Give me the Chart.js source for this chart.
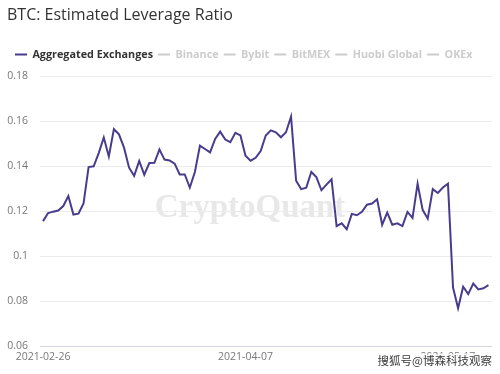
<!DOCTYPE html>
<html>
<head>
<meta charset="utf-8">
<script src="https://cdn.jsdelivr.net/npm/chart.js@4.4.1/dist/chart.umd.min.js"></script>
<style>
  html, body { margin: 0; padding: 0; background: #fff; }
  #wrap { width: 500px; height: 374px; position: relative; }
</style>
</head>
<body>
<div id="wrap"><canvas id="myChart"></canvas></div>
<script>
const seriesNames = ["Aggregated Exchanges", "Binance", "Bybit", "BitMEX", "Huobi Global", "OKEx"];
const startDate = "2021-02-26";
const tickIndexes = [0, 40, 80];

// daily leverage ratio, aggregated exchanges (2021-02-26 .. 2021-05-25)
const leverage = [
  0.1156, 0.1192, 0.1198, 0.1203, 0.1223, 0.1267, 0.1185, 0.1189, 0.1234, 0.1396,
  0.1399, 0.1458, 0.1527, 0.1443, 0.1564, 0.1541, 0.1482, 0.1393, 0.1357, 0.1423,
  0.1362, 0.1414, 0.1415, 0.1474, 0.1429, 0.1425, 0.1411, 0.1363, 0.1363, 0.1305,
  0.1374, 0.1491, 0.1476, 0.1461, 0.1521, 0.1553, 0.1518, 0.1506, 0.1548, 0.1536,
  0.1446, 0.1424, 0.1437, 0.1467, 0.1536, 0.1559, 0.1550, 0.1528, 0.1550, 0.1620,
  0.1335, 0.1298, 0.1304, 0.1374, 0.1351, 0.1293, 0.1318, 0.1342, 0.1134, 0.1146,
  0.1120, 0.1188, 0.1182, 0.1197, 0.1229, 0.1234, 0.1253, 0.1140, 0.1194, 0.1140,
  0.1146, 0.1134, 0.1197, 0.1170, 0.1322, 0.1206, 0.1167, 0.1298, 0.1281, 0.1305,
  0.1322, 0.0861, 0.0769, 0.0865, 0.0832, 0.0879, 0.0853, 0.0858, 0.0872,
];

const lineColor = "#4a3c8c";
const offColor = "#cccccc";

// one label per day
const dates = leverage.map((v, i) => {
  const d = new Date(startDate + "T00:00:00Z");
  d.setUTCDate(d.getUTCDate() + i);
  return d.toISOString().slice(0, 10);
});

const watermark = {
  id: "watermark",
  beforeDraw(chart) {
    const c = chart.ctx;
    c.save();
    c.font = "bold 33px 'Liberation Serif', serif";
    c.fillStyle = "#e8e8e8";
    c.textAlign = "center";
    c.textBaseline = "alphabetic";
    c.fillText("CryptoQuant", 250, 217);
    c.restore();
  },
  afterDraw(chart) {
    const c = chart.ctx;
    c.save();
    c.font = "11.5px 'Noto Sans CJK SC', sans-serif";
    c.textAlign = "right";
    c.textBaseline = "middle";
    c.lineWidth = 3;
    c.strokeStyle = "rgba(255,255,255,0.9)";
    c.strokeText("搜狐号@博森科技观察", 492, 361);
    c.fillStyle = "#3a3a3a";
    c.fillText("搜狐号@博森科技观察", 492, 361);
    c.restore();
  },
};

// a bit more room under the legend, and nudge it right
const legendGap = {
  id: "legendGap",
  beforeInit(chart) {
    const fit = chart.legend.fit;
    chart.legend.fit = function () {
      fit.bind(chart.legend)();
      this.height += 6;
    };
  },
  afterLayout(chart) {
    chart.legend.left += 3;
  },
};

const ctx = document.getElementById("myChart");

new Chart(ctx, {
  type: "line",
  data: {
    datasets: seriesNames.map((name, i) => ({
      label: name,
      data: i === 0 ? leverage.map((v, j) => ({ x: j, y: v })) : [],
      borderColor: i === 0 ? lineColor : offColor,
      borderWidth: 2,
      pointRadius: 0,
      tension: 0,
      fill: false,
    })),
  },
  options: {
    responsive: true,
    maintainAspectRatio: false,
    animation: false,
    layout: { padding: { left: 7, right: 8, top: 0, bottom: 7 } },
    plugins: {
      title: {
        display: true,
        text: "BTC: Estimated Leverage Ratio",
        align: "start",
        color: "#333",
        font: { family: "'Open Sans'", size: 16, weight: "normal" },
        padding: { top: 6, bottom: 19 },
      },
      legend: {
        align: "start",
        labels: {
          usePointStyle: true,
          pointStyle: "line",
          pointStyleWidth: 12,
          padding: 5,
          font: { family: "'Open Sans'", size: 10.8, weight: "bold" },
          generateLabels(chart) {
            return chart.data.datasets.map((ds, i) => ({
              text: ds.label,
              fontColor: i === 0 ? "#333" : offColor,
              strokeStyle: ds.borderColor,
              fillStyle: ds.borderColor,
              lineWidth: 2,
              pointStyle: "line",
              hidden: false,
              datasetIndex: i,
            }));
          },
        },
      },
      tooltip: { enabled: false },
    },
    scales: {
      x: {
        type: "linear",
        min: -0.6,
        max: 88.7,
        grid: { display: false, drawTicks: false },
        border: { display: false },
        afterBuildTicks(scale) {
          scale.ticks = tickIndexes.map((v) => ({ value: v }));
        },
        afterFit(scale) {
          scale.paddingLeft = 0;
          scale.paddingRight = 0;
        },
        ticks: {
          autoSkip: false,
          maxRotation: 0,
          padding: 4,
          color: "#777",
          font: { family: "'Open Sans'", size: 10.5 },
          callback: (v) => dates[v],
        },
      },
      y: {
        min: 0.06,
        max: 0.18,
        border: { display: false },
        afterFit(scale) {
          scale.width = 33;
        },
        grid: {
          drawTicks: false,
          color: (c) => (c.tick && Math.abs(c.tick.value - 0.06) < 1e-6 ? "#d6d6e2" : "#ececec"),
        },
        ticks: {
          stepSize: 0.02,
          padding: 12,
          color: "#777",
          font: { family: "'Open Sans'", size: 10.5 },
          callback: (v) => String(+v.toFixed(2)),
        },
      },
    },
  },
  plugins: [watermark, legendGap],
});
</script>
</body>
</html>
